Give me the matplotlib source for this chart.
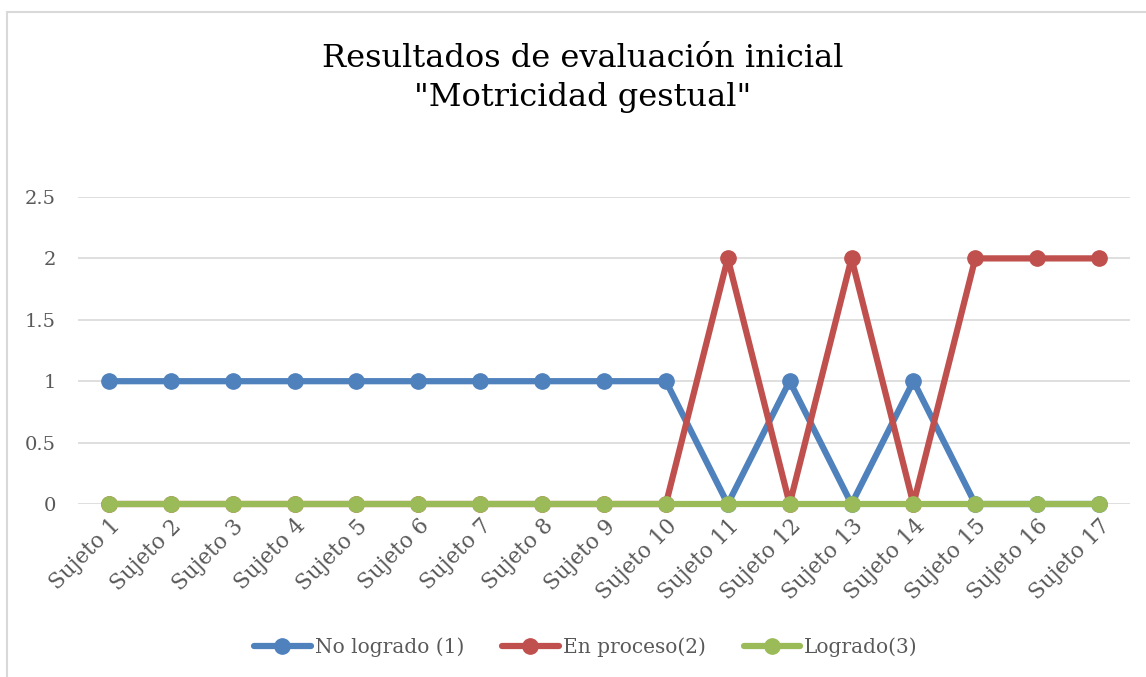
import matplotlib
matplotlib.use("Agg")
import matplotlib.pyplot as plt
from matplotlib.patches import Rectangle

categories = [f"Sujeto {i}" for i in range(1, 18)]
no_logrado = [1, 1, 1, 1, 1, 1, 1, 1, 1, 1, 0, 1, 0, 1, 0, 0, 0]
en_proceso = [0, 0, 0, 0, 0, 0, 0, 0, 0, 0, 2, 0, 2, 0, 2, 2, 2]
logrado = [0] * 17
series_names = ["No logrado (1)", "En proceso(2)", "Logrado(3)"]
yticks = [0, 0.5, 1, 1.5, 2, 2.5]
ytick_labels = ["0", "0.5", "1", "1.5", "2", "2.5"]

colors = ["#4F81BD", "#C0504D", "#9BBB59"]
plt.rcParams['font.family'] = ["DejaVu Serif"]

fig = plt.figure(figsize=(11.46, 6.77), dpi=100)
W, H = 1146, 677
ax = fig.add_axes([78 / W, 1 - 504 / H, (1130 - 78) / W, (504 - 197) / H])

x = list(range(len(categories)))
for vals, c, name in zip([no_logrado, en_proceso, logrado], colors, series_names):
    ax.plot(x, vals, color=c, lw=4.5, marker='o', ms=11, label=name,
            solid_capstyle='round', clip_on=False)

ax.set_xlim(-0.5, len(categories) - 0.5)
ax.set_ylim(0, 2.5)
ax.set_yticks(yticks)
ax.set_yticklabels(ytick_labels)
ax.set_xticks(x)
ax.set_xticklabels(categories, rotation=45, ha='right', rotation_mode='anchor')
ax.tick_params(axis='both', length=0, colors='#595959')
ax.tick_params(axis='x', labelsize=15.5, pad=8)
ax.tick_params(axis='y', labelsize=14, pad=16)
for lbl in ax.get_xticklabels():
    lbl.set_x(lbl.get_position()[0])
ax.grid(axis='y', color='#D9D9D9', lw=1.2)
ax.set_axisbelow(True)
for s in ax.spines.values():
    s.set_visible(False)

fig.text(583 / W, 1 - 78 / H, 'Resultados de evaluación inicial\n"Motricidad gestual"',
         ha='center', va='center', fontsize=23, color='black', linespacing=1.35)

leg = fig.legend(loc='center', bbox_to_anchor=(586 / W, 1 - 647 / H), ncol=3,
                 frameon=False, fontsize=14.5, handlelength=2.8, handletextpad=0.2,
                 columnspacing=1.9, labelcolor='#595959')
for h in leg.legend_handles:
    h.set_markersize(11)

fig.patches.append(Rectangle((7 / W, -0.2), 1.2, 1.2 - 12 / H, transform=fig.transFigure,
                             fill=False, edgecolor='#D9D9D9', lw=1.5))

fig.savefig("out.png", dpi=100)
